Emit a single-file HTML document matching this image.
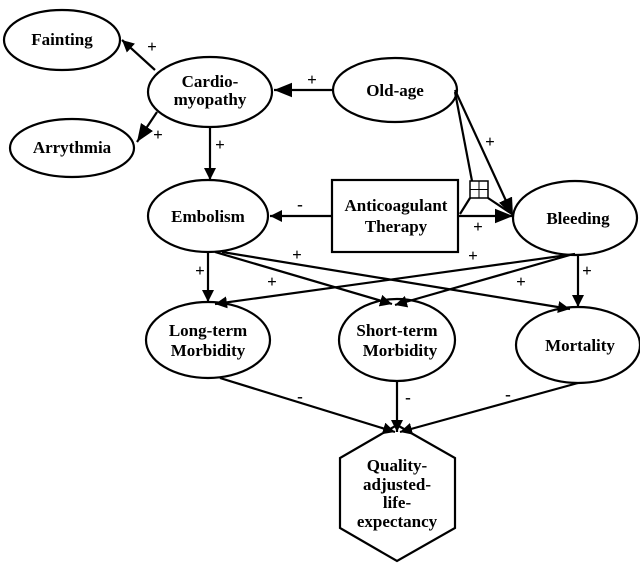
<!DOCTYPE html>
<html><head><style>body{margin:0;background:#fff}svg{display:block}text{font-family:"Liberation Serif",serif;font-weight:bold;font-size:17px;fill:#000}</style></head><body>
<svg width="640" height="567" viewBox="0 0 640 567">
<defs><marker id="a" viewBox="0 0 10 10" refX="10" refY="5" markerWidth="12" markerHeight="12" orient="auto" markerUnits="userSpaceOnUse"><path d="M0,0 L10,5 L0,10 z"/></marker>
<marker id="b" viewBox="0 0 10 10" refX="10" refY="5" markerWidth="18" markerHeight="18" orient="auto" markerUnits="userSpaceOnUse"><path d="M0,1 L10,5 L0,9 z"/></marker></defs>
<g fill="none" stroke="#000" stroke-width="2.2">
<ellipse cx="62" cy="40" rx="58" ry="30"/>
<ellipse cx="210" cy="92" rx="62" ry="35"/>
<ellipse cx="395" cy="90" rx="62" ry="32"/>
<ellipse cx="72" cy="148" rx="62" ry="29"/>
<ellipse cx="208" cy="216" rx="60" ry="36"/>
<rect x="332" y="180" width="126" height="72"/>
<ellipse cx="575" cy="218" rx="62" ry="37"/>
<ellipse cx="208" cy="340" rx="62" ry="38"/>
<ellipse cx="397" cy="340" rx="58" ry="41"/>
<ellipse cx="578" cy="345" rx="62" ry="38"/>
<polygon points="397,425 455,458 455,528 397,561 340,528 340,458"/>
<rect x="470" y="181" width="18" height="17" stroke-width="1.5"/>
<path d="M479,181 V198 M470,189.5 H488" stroke-width="1"/>
<path d="M470,198 L460,214 M488,198 L512,214"/>
<path d="M455,92 L472,181"/>
</g>
<g stroke="#000" stroke-width="2.2" fill="none">
<line x1="333" y1="90" x2="274" y2="90" marker-end="url(#b)"/>
<line x1="155" y1="70" x2="122" y2="40" marker-end="url(#a)"/>
<line x1="157" y1="112" x2="137" y2="142" marker-end="url(#b)"/>
<line x1="210" y1="127" x2="210" y2="180" marker-end="url(#a)"/>
<line x1="332" y1="216" x2="270" y2="216" marker-end="url(#a)"/>
<line x1="455" y1="90" x2="513" y2="216" marker-end="url(#b)"/>
<line x1="458" y1="216" x2="513" y2="216" marker-end="url(#b)"/>
<line x1="208" y1="252" x2="208" y2="302" marker-end="url(#a)"/>
<line x1="215" y1="252" x2="392" y2="304" marker-end="url(#a)"/>
<line x1="222" y1="252" x2="570" y2="309" marker-end="url(#a)"/>
<line x1="578" y1="254" x2="578" y2="307" marker-end="url(#a)"/>
<line x1="575" y1="254" x2="215" y2="304" marker-end="url(#a)"/>
<line x1="570" y1="255" x2="395" y2="305" marker-end="url(#a)"/>
<line x1="220" y1="378" x2="395" y2="432" marker-end="url(#a)"/>
<line x1="397" y1="381" x2="397" y2="432" marker-end="url(#a)"/>
<line x1="578" y1="383" x2="400" y2="432" marker-end="url(#a)"/>
</g>
<g text-anchor="middle">
<text x="62" y="45">Fainting</text>
<text x="210" y="87">Cardio-</text><text x="210" y="105">myopathy</text>
<text x="395" y="96">Old-age</text>
<text x="72" y="153">Arrythmia</text>
<text x="208" y="222">Embolism</text>
<text x="396" y="211" font-weight="normal" font-size="18">Anticoagulant</text>
<text x="396" y="232" font-weight="normal" font-size="18">Therapy</text>
<text x="578" y="224">Bleeding</text>
<text x="208" y="336">Long-term</text><text x="208" y="356">Morbidity</text>
<text x="397" y="336">Short-term</text><text x="400" y="356">Morbidity</text>
<text x="580" y="351">Mortality</text>
<text x="397" y="471">Quality-</text><text x="397" y="490">adjusted-</text><text x="397" y="508">life-</text><text x="397" y="527">expectancy</text>
</g>
<g font-size="15" text-anchor="middle" style="font-weight:normal">
<text x="152" y="52">+</text><text x="312" y="85">+</text><text x="158" y="140">+</text>
<text x="220" y="150">+</text><text x="300" y="210">-</text><text x="490" y="147">+</text>
<text x="478" y="232">+</text><text x="200" y="276">+</text><text x="297" y="260">+</text>
<text x="272" y="287">+</text><text x="473" y="261">+</text><text x="521" y="287">+</text>
<text x="587" y="276">+</text><text x="300" y="402">-</text><text x="408" y="403">-</text><text x="508" y="400">-</text>
</g>
</svg></body></html>
